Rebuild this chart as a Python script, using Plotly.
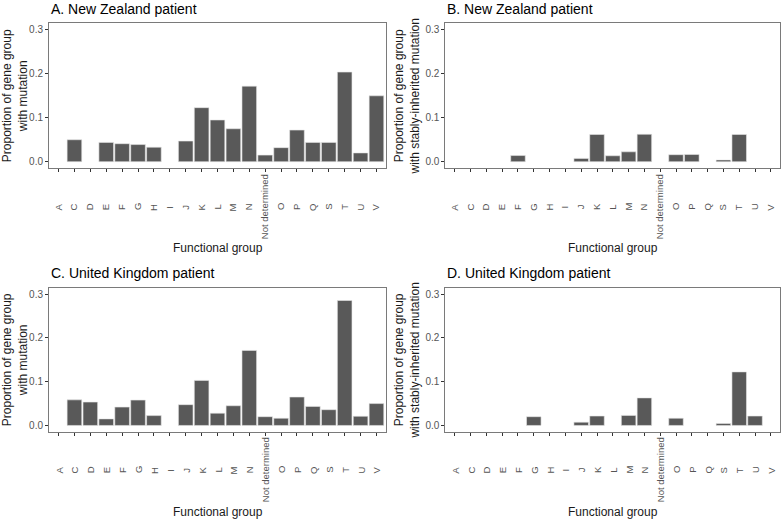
import plotly.graph_objects as go

categories = ["A", "C", "D", "E", "F", "G", "H", "I", "J", "K", "L", "M", "N",
              "Not determined", "O", "P", "Q", "S", "T", "U", "V"]

nz_mutation = [0, 0.050, 0, 0.044, 0.041, 0.039, 0.033, 0, 0.047, 0.123, 0.095, 0.075, 0.172,
               0.015, 0.032, 0.072, 0.044, 0.044, 0.204, 0.020, 0.150]
nz_stable = [0, 0, 0, 0, 0.014, 0, 0, 0, 0.0075, 0.062, 0.0135, 0.0225, 0.0625,
             0, 0.016, 0.0165, 0, 0.004, 0.062, 0, 0]
uk_mutation = [0, 0.0585, 0.0535, 0.015, 0.042, 0.058, 0.0225, 0, 0.0475, 0.103, 0.028, 0.045, 0.1715,
               0.020, 0.0165, 0.065, 0.0435, 0.036, 0.2857, 0.021, 0.050]
uk_stable = [0, 0, 0, 0, 0, 0.020, 0, 0, 0.0075, 0.0215, 0, 0.023, 0.063,
             0, 0.0165, 0, 0, 0.0045, 0.1225, 0.0215, 0]

panel_titles = ["A. New Zealand patient", "B. New Zealand patient",
                "C. United Kingdom patient", "D. United Kingdom patient"]
y_titles = ["Proportion of gene group<br>with mutation",
            "Proportion of gene group<br>with stably-inherited mutation",
            "Proportion of gene group<br>with mutation",
            "Proportion of gene group<br>with stably-inherited mutation"]
x_title = "Functional group"
y_ticks = [0.0, 0.1, 0.2, 0.3]

W, H = 784, 521
FONT = "Liberation Sans, Arial, sans-serif"

# panel geometry in pixels: (left, right, top, bottom)
panels = [(49.0, 386.0, 23.3, 168.3), (445.3, 780.3, 23.3, 168.3),
          (49.0, 386.0, 287.7, 432.0), (445.3, 780.3, 287.7, 432.0)]
tick_label_center = [207.0, 207.0, 470.0, 470.0]
xtitle_center = [248.0, 248.0, 511.5, 511.5]
title_center = [9.5, 9.5, 272.5, 272.5]

series = [nz_mutation, nz_stable, uk_mutation, uk_stable]

fig = go.Figure()
annotations = []
for i, (vals, (l, r, t, b)) in enumerate(zip(series, panels)):
    n = i + 1
    xa = "x" if n == 1 else f"x{n}"
    ya = "y" if n == 1 else f"y{n}"
    # zero-valued groups are left empty (no hairline at the baseline)
    yvals = [v if v > 0 else None for v in vals]
    fig.add_trace(go.Bar(x=categories, y=yvals, xaxis=xa, yaxis=ya,
                         marker=dict(color="#595959", line=dict(color="#e6e6e6", width=0.6)),
                         showlegend=False, hoverinfo="x+y"))
    common = dict(showline=True, mirror=True, linecolor="#7a7a7a", linewidth=1,
                  ticks="outside", ticklen=3, tickcolor="#333333", tickwidth=1,
                  showgrid=False, zeroline=False)
    fig.layout[f"xaxis{'' if n == 1 else n}"] = dict(
        domain=[l / W, r / W], anchor=ya, type="category",
        categoryorder="array", categoryarray=categories,
        range=[-0.6, len(categories) - 0.4], showticklabels=False, **common)
    fig.layout[f"yaxis{'' if n == 1 else n}"] = dict(
        domain=[1 - b / H, 1 - t / H], anchor=xa, range=[-0.015, 0.315],
        tickvals=y_ticks, ticktext=[f"{v:.1f}" for v in y_ticks],
        tickfont=dict(size=10, color="#555555", family=FONT),
        title=dict(text=y_titles[i], font=dict(size=12, color="#1a1a1a", family=FONT), standoff=3),
        **common)
    # rotated category labels (centered, like ggplot hjust=0.5)
    for c in categories:
        annotations.append(dict(x=c, xref=xa, y=1 - tick_label_center[i] / H, yref="paper",
                                text=c, textangle=-90, showarrow=False,
                                xanchor="center", yanchor="middle",
                                font=dict(size=9.5, color="#555555", family=FONT)))
    annotations.append(dict(x=(l + r) / 2 / W, xref="paper", y=1 - xtitle_center[i] / H, yref="paper",
                            text=x_title, showarrow=False, xanchor="center", yanchor="middle",
                            font=dict(size=12, color="#1a1a1a", family=FONT)))
    annotations.append(dict(x=l / W, xref="paper", y=1 - title_center[i] / H, yref="paper",
                            text=panel_titles[i], showarrow=False, xanchor="left", yanchor="middle",
                            font=dict(size=14, color="#000000", family=FONT)))

fig.update_layout(width=W, height=H, margin=dict(l=0, r=0, t=0, b=0),
                  paper_bgcolor="white", plot_bgcolor="white", bargap=0.08,
                  annotations=annotations, font=dict(family=FONT))

fig.write_html("out.html", config={"displayModeBar": False},
               post_script="document.body.style.margin='0px';document.body.style.overflow='hidden';")
